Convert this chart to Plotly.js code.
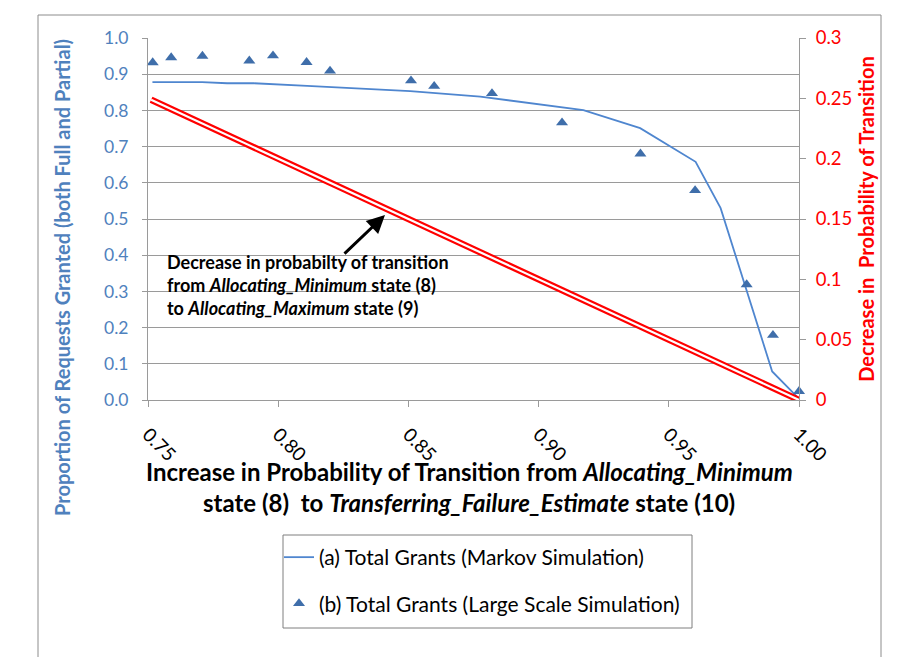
<!DOCTYPE html>
<html>
<head>
<meta charset="utf-8">
<script src="https://cdn.plot.ly/plotly-3.0.1.min.js"></script>
<style>
html,body{margin:0;padding:0;background:#fff;}
#chart{width:906px;height:657px;}
</style>
</head>
<body>
<div id="chart"></div>
<script>
// ---- data ----
const xTickVals = [0.75, 0.80, 0.85, 0.90, 0.95, 1.00];
const xTickText = ['0.75', '0.80', '0.85', '0.90', '0.95', '1.00'];

const markovX = [0.7517, 0.7708, 0.7804, 0.7906, 0.8111, 0.8226, 0.8507, 0.8776, 0.9172, 0.9390, 0.9603, 0.9699, 0.9897, 0.9991];
const markovY = [0.878, 0.878, 0.875, 0.875, 0.868, 0.864, 0.853, 0.838, 0.801, 0.751, 0.658, 0.530, 0.079, 0.010];

const largeX = [0.7518, 0.7589, 0.7709, 0.7889, 0.7980, 0.8109, 0.8199, 0.8510, 0.8599, 0.8821, 0.9090, 0.9391, 0.9601, 0.9799, 0.9900, 1.0000];
const largeY = [0.932, 0.946, 0.950, 0.937, 0.951, 0.933, 0.909, 0.882, 0.867, 0.847, 0.766, 0.680, 0.579, 0.319, 0.179, 0.024];

const decX = [0.7512, 1.0];
const decY = [0.2488, 0.0];

const seriesNames = ['(a) Total Grants (Markov Simulation)', '(b) Total Grants (Large Scale Simulation)'];
const xTitleLines = ['<b>Increase in Probability of Transition from <i>Allocating_Minimum</i></b>',
                     '<b>state (8)  to <i>Transferring_Failure_Estimate</i> state (10)</b>'];

// ---- styling ----
const FONT = 'Lato, "Open Sans", sans-serif';
const BLUE_TXT = '#4F81BD';
const LINE_BLUE = '#4F86CF';
const MARK_BLUE = '#3F6EAA';
const RED = '#FF0000';
const GRID = '#9A9A9A';
const AXIS = '#9A9A9A';

const traces = [
  {x: decX, y: decY, yaxis: 'y2', mode: 'lines', line: {color: RED, width: 6.5}, showlegend: false, hoverinfo: 'skip', cliponaxis: false},
  {x: decX, y: decY, yaxis: 'y2', mode: 'lines', line: {color: '#FFFFFF', width: 2.2}, showlegend: false, hoverinfo: 'skip', cliponaxis: false},
  {x: markovX, y: markovY, mode: 'lines', name: seriesNames[0], line: {color: LINE_BLUE, width: 1.8}, legendgroup: 'a', cliponaxis: false},
  {x: largeX, y: largeY, mode: 'markers', name: seriesNames[1], marker: {symbol: 'triangle-up', size: 10.5, color: MARK_BLUE}, legendgroup: 'b', cliponaxis: false}
];

// plot area: x 148..799, y 38..400
const PL = 148, PR = 799, PT = 38, PB = 400;
const px = v => (v - PL) / (PR - PL);
const py = v => (PB - v) / (PB - PT);

const layout = {
  width: 906, height: 657,
  margin: {l: PL, r: 906 - PR, t: PT, b: 657 - PB, pad: 0},
  paper_bgcolor: '#FFFFFF', plot_bgcolor: '#FFFFFF',
  font: {family: FONT, color: '#000'},
  showlegend: true,
  xaxis: {
    range: [0.75, 1.0], tickvals: xTickVals, ticktext: xTickText, tickangle: 45,
    ticks: 'outside', ticklen: 6, tickcolor: AXIS, showline: true, linecolor: AXIS, linewidth: 1,
    showgrid: false, zeroline: false, tickfont: {family: FONT, size: 19, color: '#000'}, ticklabelstandoff: 9,
    automargin: false
  },
  yaxis: {
    range: [0, 1], dtick: 0.1, tickformat: '.1f',
    ticks: 'outside', ticklen: 5, tickcolor: AXIS, showline: true, linecolor: AXIS, linewidth: 1,
    showgrid: true, gridcolor: GRID, gridwidth: 1, zeroline: false,
    tickfont: {family: FONT, size: 17.5, color: BLUE_TXT}, ticklabelstandoff: 10, automargin: false
  },
  yaxis2: {
    overlaying: 'y', side: 'right', range: [0, 0.3], dtick: 0.05,
    ticks: 'outside', ticklen: 6, tickcolor: AXIS, showline: true, linecolor: AXIS, linewidth: 1,
    showgrid: false, zeroline: false,
    tickfont: {family: FONT, size: 18.5, color: RED}, ticklabelstandoff: 6,
    title: {text: '<b>Decrease in  Probability of Transition</b>', font: {family: FONT, size: 20, color: RED}, standoff: 8},
    automargin: false
  },
  legend: {
    x: px(279), y: py(537), xanchor: 'left', yanchor: 'top',
    bgcolor: 'rgba(0,0,0,0)', borderwidth: 0,
    font: {family: FONT, size: 21, color: '#000'},
    traceorder: 'grouped', tracegroupgap: 16
  },
  shapes: [
    {type: 'rect', xref: 'paper', yref: 'paper', x0: px(38), x1: px(881), y0: py(700), y1: py(15), line: {color: '#8C8C8C', width: 1}, fillcolor: 'rgba(0,0,0,0)', layer: 'below'},
    {type: 'rect', xref: 'paper', yref: 'paper', x0: px(283), x1: px(692), y0: py(628), y1: py(535), line: {color: '#7F7F7F', width: 1}, fillcolor: 'rgba(0,0,0,0)'},
    {type: 'rect', xref: 'paper', yref: 'paper', x0: px(160), x1: px(458), y0: py(326), y1: py(243), line: {width: 0}, fillcolor: '#FFFFFF', layer: 'between'}
  ],
  annotations: [
    {xref: 'paper', yref: 'paper', x: px(469), y: py(471), text: xTitleLines[0], showarrow: false,
     font: {family: FONT, size: 24, color: '#000'}, xanchor: 'center', yanchor: 'middle'},
    {xref: 'paper', yref: 'paper', x: px(469), y: py(502), text: xTitleLines[1], showarrow: false,
     font: {family: FONT, size: 24, color: '#000'}, xanchor: 'center', yanchor: 'middle'},
    {xref: 'paper', yref: 'paper', x: px(62), y: py(278), text: '<b>Proportion of Requests Granted (both Full and Partial)</b>', textangle: -90,
     showarrow: false, font: {family: FONT, size: 20, color: BLUE_TXT}, xanchor: 'center', yanchor: 'middle'},
    {xref: 'paper', yref: 'paper', x: px(165), y: py(262), text: '<b>Decrease in probabilty of transition</b>', showarrow: false,
     font: {family: FONT, size: 18, color: '#000'}, xanchor: 'left', yanchor: 'middle'},
    {xref: 'paper', yref: 'paper', x: px(165), y: py(285), text: '<b>from <i>Allocating_Minimum</i> state (8)</b>', showarrow: false,
     font: {family: FONT, size: 18, color: '#000'}, xanchor: 'left', yanchor: 'middle'},
    {xref: 'paper', yref: 'paper', x: px(165), y: py(308), text: '<b>to <i>Allocating_Maximum</i> state (9)</b>', showarrow: false,
     font: {family: FONT, size: 18, color: '#000'}, xanchor: 'left', yanchor: 'middle'},
    {xref: 'paper', yref: 'paper', x: px(385), y: py(215), text: '', showarrow: true, arrowhead: 2, arrowsize: 1.2, arrowwidth: 3,
     arrowcolor: '#000', ax: -42, ay: 40, standoff: 0}
  ]
};

Plotly.newPlot('chart', traces, layout, {displayModeBar: false, staticPlot: true});
</script>
</body>
</html>
